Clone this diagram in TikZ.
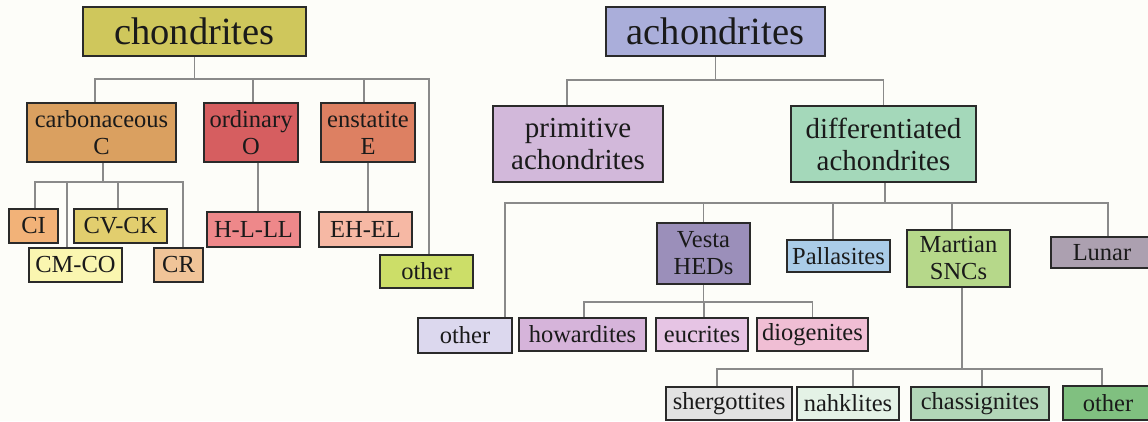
\documentclass[tikz,border=0pt]{standalone}
\usepackage{fontspec}
\setmainfont{Liberation Serif}
\definecolor{cBg}{HTML}{FDFDF9}
\definecolor{cChond}{HTML}{CFC75C}
\definecolor{cCarb}{HTML}{DAA060}
\definecolor{cOrd}{HTML}{D65E60}
\definecolor{cEnst}{HTML}{DD8062}
\definecolor{cCI}{HTML}{F2B278}
\definecolor{cCVCK}{HTML}{E2CE6E}
\definecolor{cCMCO}{HTML}{FAF6B0}
\definecolor{cCR}{HTML}{F0C498}
\definecolor{cHLLL}{HTML}{EE888A}
\definecolor{cEHEL}{HTML}{F6B8A4}
\definecolor{cOthC}{HTML}{CCDE68}
\definecolor{cAch}{HTML}{AAAEDA}
\definecolor{cPrim}{HTML}{D2B8DA}
\definecolor{cDiff}{HTML}{A4D8BA}
\definecolor{cVesta}{HTML}{9B8FBA}
\definecolor{cPall}{HTML}{AACCE8}
\definecolor{cMart}{HTML}{B6D88A}
\definecolor{cLunar}{HTML}{ACA0B0}
\definecolor{cOthA}{HTML}{DCD8EE}
\definecolor{cHow}{HTML}{D6B4DA}
\definecolor{cEuc}{HTML}{E6C4E4}
\definecolor{cDio}{HTML}{F0BED4}
\definecolor{cSherg}{HTML}{E2E2E2}
\definecolor{cNahk}{HTML}{E4F2E6}
\definecolor{cChass}{HTML}{B2D6B8}
\definecolor{cOthM}{HTML}{80C080}
\definecolor{cLine}{HTML}{8A8A8A}
\definecolor{cBorder}{HTML}{2A2A2A}
\definecolor{cText}{HTML}{1A1A1A}
\begin{document}
\begin{tikzpicture}[x=1pt,y=-1pt,
  bx/.style={draw=cBorder, line width=1.6pt, inner sep=0pt, align=center,
             text=cText, font=\fontsize{24.5}{27}\selectfont},
  bigbx/.style={bx, font=\fontsize{38.5}{40}\selectfont},
  midbx/.style={bx, font=\fontsize{29}{32}\selectfont},
  conn/.style={draw=cLine, line width=1.3pt}]
\useasboundingbox (0,0) rectangle (1148,421);
\clip (0,0) rectangle (1148,421);
\fill[cBg] (0,0) rectangle (1148,421);

% ---------- chondrites ----------
\node[bigbx, fill=cChond, minimum width=223pt, minimum height=49pt] (chond) at (194.5,31.5) {chondrites};
\node[bx, fill=cCarb, minimum width=149pt, minimum height=59pt] (carb) at (101.5,132.5) {carbonaceous\\C};
\node[bx, fill=cOrd, minimum width=94pt, minimum height=59pt] (ord) at (251,132.5) {ordinary\\O};
\node[bx, fill=cEnst, minimum width=94pt, minimum height=59pt] (enst) at (368,132.5) {enstatite\\E};
\node[bx, fill=cCI, minimum width=49pt, minimum height=34pt] (CI) at (33.5,226) {CI};
\node[bx, fill=cCVCK, minimum width=93pt, minimum height=34pt] (CVCK) at (120.5,226) {CV-CK};
\node[bx, fill=cCMCO, minimum width=93pt, minimum height=34pt] (CMCO) at (75.5,265) {CM-CO};
\node[bx, fill=cCR, minimum width=49pt, minimum height=34pt] (CR) at (178.5,265) {CR};
\node[bx, fill=cHLLL, minimum width=93pt, minimum height=35pt] (HLLL) at (253.5,229.5) {H-L-LL};
\node[bx, fill=cEHEL, minimum width=93pt, minimum height=35pt] (EHEL) at (365.5,229.5) {EH-EL};
\node[bx, fill=cOthC, minimum width=93pt, minimum height=33pt] (othC) at (426.5,271.5) {other};

\coordinate (busC) at (0,79);
\coordinate (busK) at (0,182);
\draw[conn] (chond.south) -- (chond.south |- busC);
\draw[conn] ([xshift=-6.5pt]carb.north) |- ([xshift=2.5pt]othC.north |- busC) -- ([xshift=2.5pt]othC.north);
\draw[conn] ([xshift=2pt]ord.north) -- ([xshift=2pt]ord.north |- busC);
\draw[conn] ([xshift=-4pt]enst.north) -- ([xshift=-4pt]enst.north |- busC);
\draw[conn] ([xshift=1.5pt]carb.south) -- ([xshift=1.5pt]carb.south |- busK);
\draw[conn] ([xshift=1.5pt]CI.north) |- ([xshift=4.5pt]CR.north |- busK) -- ([xshift=4.5pt]CR.north);
\draw[conn] ([xshift=-8.5pt]CMCO.north) -- ([xshift=-8.5pt]CMCO.north |- busK);
\draw[conn] ([xshift=-2.5pt]CVCK.north) -- ([xshift=-2.5pt]CVCK.north |- busK);
\draw[conn] ([xshift=4.5pt]HLLL.north) -- ([xshift=4.5pt]HLLL.north |- ord.south);
\draw[conn] (enst.south) -- (enst.south |- EHEL.north);

% ---------- achondrites ----------
\node[bigbx, fill=cAch, minimum width=219pt, minimum height=49pt] (ach) at (715.5,31.5) {achondrites};
\node[midbx, fill=cPrim, minimum width=170pt, minimum height=76pt] (prim) at (578,144) {primitive\\achondrites};
\node[midbx, fill=cDiff, minimum width=185pt, minimum height=76pt] (diff) at (883.5,144) {differentiated\\achondrites};
\node[bx, fill=cOthA, minimum width=94pt, minimum height=35pt] (othA) at (465,335.5) {other};
\node[bx, fill=cVesta, minimum width=93pt, minimum height=61pt] (vesta) at (703.5,253.5) {Vesta\\HEDs};
\node[bx, fill=cPall, minimum width=103pt, minimum height=32pt] (pall) at (838.5,256) {Pallasites};
\node[bx, fill=cMart, minimum width=103pt, minimum height=57pt] (mart) at (958.5,258.5) {Martian\\SNCs};
\node[bx, fill=cLunar, minimum width=102pt, minimum height=31pt] (lunar) at (1102,252.5) {Lunar};
\node[bx, fill=cHow, minimum width=127pt, minimum height=33pt] (how) at (582.5,334.5) {howardites};
\node[bx, fill=cEuc, minimum width=92pt, minimum height=33pt] (euc) at (702,334.5) {eucrites};
\node[bx, fill=cDio, minimum width=111pt, minimum height=33pt] (dio) at (812.5,334.5) {diogenites};
\node[bx, fill=cSherg, minimum width=126pt, minimum height=33pt] (sherg) at (729,403.5) {shergottites};
\node[bx, fill=cNahk, minimum width=102pt, minimum height=33pt] (nahk) at (848,403.5) {nahklites};
\node[bx, fill=cChass, minimum width=138pt, minimum height=33pt] (chass) at (980,403.5) {chassignites};
\node[bx, fill=cOthM, minimum width=90pt, minimum height=34pt] (othM) at (1108,403) {other};

\coordinate (busA) at (0,80);
\coordinate (busD) at (0,203);
\coordinate (busV) at (0,302);
\coordinate (busM) at (0,369);
\draw[conn] (ach.south) -- (ach.south |- busA);
\draw[conn] ([xshift=-11pt]prim.north) |- (diff.north |- busA) -- (diff.north);
\draw[conn] ([xshift=1.5pt]diff.south) -- ([xshift=1.5pt]diff.south |- busD);
\draw[conn] ([xshift=40pt]othA.north) |- ([xshift=6pt]lunar.north |- busD) -- ([xshift=6pt]lunar.north);
\draw[conn] (vesta.north) -- (vesta.north |- busD);
\draw[conn] ([xshift=-5.5pt]pall.north) -- ([xshift=-5.5pt]pall.north |- busD);
\draw[conn] ([xshift=-6.5pt]mart.north) -- ([xshift=-6.5pt]mart.north |- busD);
\draw[conn] (vesta.south) -- (vesta.south |- busV);
\draw[conn] ([xshift=1.5pt]how.north) |- (dio.north |- busV) -- (dio.north);
\draw[conn] ([xshift=2pt]euc.north) -- ([xshift=2pt]euc.north |- busV);
\draw[conn] ([xshift=3.5pt]mart.south) -- ([xshift=3.5pt]mart.south |- busM);
\draw[conn] ([xshift=-12pt]sherg.north) |- ([xshift=-6pt]othM.north |- busM) -- ([xshift=-6pt]othM.north);
\draw[conn] ([xshift=5pt]nahk.north) -- ([xshift=5pt]nahk.north |- busM);
\draw[conn] ([xshift=2pt]chass.north) -- ([xshift=2pt]chass.north |- busM);
\end{tikzpicture}
\end{document}
